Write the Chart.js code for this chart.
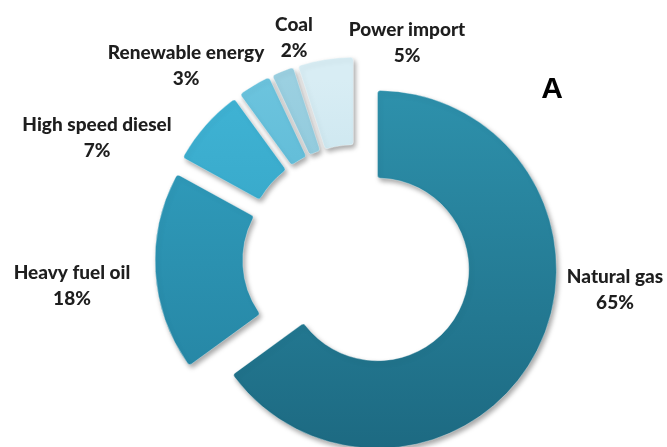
<!DOCTYPE html>
<html>
<head>
<meta charset="utf-8">
<script src="https://cdn.jsdelivr.net/npm/chart.js@4.4.1/dist/chart.umd.min.js"></script>
<style>
  html, body { margin: 0; padding: 0; background: #fff; }
  #wrap { width: 667px; height: 447px; position: relative; }
</style>
</head>
<body>
<div id="wrap"><canvas id="doughnutChart" width="667" height="447"></canvas></div>
<script>
// data
const categories = ['Natural gas', 'Heavy fuel oil', 'High speed diesel', 'Renewable energy', 'Coal', 'Power import'];
const shares = [65, 18, 7, 3, 2, 5];

// colours (light top, dark bottom) for each slice
const lightColors = ['#2E92AD', '#33A2C2', '#40B4D5', '#6CC4DE', '#9BD0E1', '#D8EDF4'];
const darkColors  = ['#1D6A82', '#23809E', '#2C97B8', '#46A8C7', '#72B8CE', '#AAD4E2'];

// label placement (text centre of first line)
const labelPos = [[615, 277], [72, 273], [97, 125], [186, 53], [294, 25], [407, 30]];

const explode = 23; // px every slice is pulled out from the centre

const ctx = document.getElementById('doughnutChart').getContext('2d');

// move each arc out along its mid angle (like Excel's point explosion)
const explodePlugin = {
    id: 'explode',
    afterDatasetUpdate(chart, args) {
        args.meta.data.forEach(arc => {
            const mid = (arc.startAngle + arc.endAngle) / 2;
            arc.x += Math.cos(mid) * explode;
            arc.y += Math.sin(mid) * explode;
        });
    }
};

const shadowPlugin = {
    id: 'shadow',
    beforeDatasetsDraw(chart) {
        const c = chart.ctx;
        c.save();
        c.shadowColor = 'rgba(0,0,0,0.35)';
        c.shadowBlur = 5;
        c.shadowOffsetX = 2;
        c.shadowOffsetY = 3;
    },
    afterDatasetsDraw(chart) {
        chart.ctx.restore();
    }
};

const labelPlugin = {
    id: 'outLabels',
    afterDraw(chart) {
        const c = chart.ctx;
        c.save();
        c.fillStyle = '#1e1e1e';
        c.textAlign = 'center';
        c.textBaseline = 'middle';
        c.font = '900 19px Lato';
        categories.forEach((name, i) => {
            const [x, y] = labelPos[i];
            c.fillText(name, x, y);
            c.fillText(shares[i] + '%', x, y + 26);
        });
        c.font = 'bold 30px "Liberation Sans"';
        c.fillStyle = '#000';
        c.fillText('A', 552, 90);
        c.restore();
    }
};

new Chart(ctx, {
    type: 'doughnut',
    data: {
        labels: categories,
        datasets: [{
            data: shares,
            backgroundColor: (context) => {
                const i = context.dataIndex;
                const g = context.chart.ctx.createLinearGradient(0, 80, 0, 447);
                g.addColorStop(0, lightColors[i]);
                g.addColorStop(1, darkColors[i]);
                return g;
            },
            borderColor: 'rgba(255,255,255,0.35)',
            borderWidth: 1,
            borderRadius: 3,
            clip: false
        }]
    },
    options: {
        responsive: false,
        animation: false,
        radius: 179,
        cutout: '51%',
        layout: { padding: { left: 47, top: 71, right: 0, bottom: 0 } },
        plugins: {
            legend: { display: false },
            tooltip: { enabled: false }
        }
    },
    plugins: [explodePlugin, shadowPlugin, labelPlugin]
});
</script>
</body>
</html>
